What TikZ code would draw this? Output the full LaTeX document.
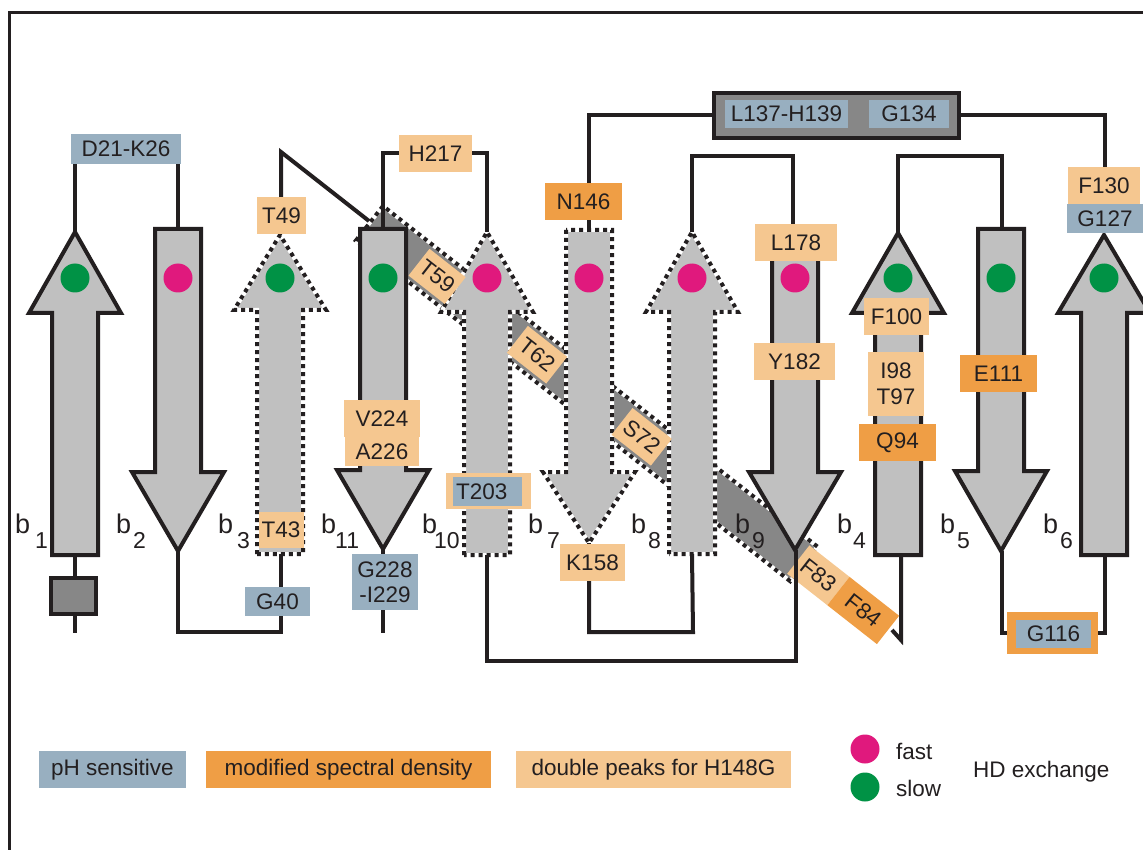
\documentclass[tikz,border=0pt]{standalone}
\usepackage{fontspec}
\setmainfont{Liberation Sans}
\definecolor{ink}{HTML}{231F20}
\definecolor{sgray}{HTML}{C0C0C0}
\definecolor{dgray}{HTML}{878787}
\definecolor{phblue}{HTML}{98AFC0}
\definecolor{lorange}{HTML}{F5C790}
\definecolor{mdorange}{HTML}{EF9E45}
\definecolor{mag}{HTML}{E0197D}
\definecolor{grn}{HTML}{009245}
\tikzset{
 conn/.style={draw=ink, line width=4pt},
 solidstrand/.style={fill=sgray, draw=ink, line width=4pt, line join=miter},
 dotstrand/.style={preaction={fill=sgray}, draw=white, line width=4pt, postaction={draw=ink, line width=4pt, dash pattern=on 4pt off 4pt}},
 bandstyle/.style={preaction={fill=dgray}, draw=white, line width=4pt, postaction={draw=ink, line width=4pt, dash pattern=on 4pt off 4pt}},
 lab/.style={inner sep=0pt, text=ink, font=\fontsize{22.5}{26}\selectfont, align=center},
 blab/.style={lab, fill=phblue},
 olab/.style={lab, fill=mdorange},
 llab/.style={lab, fill=lorange},
 dot/.style={circle, inner sep=0pt, minimum size=29pt},
 bname/.style={inner sep=0pt, anchor=base west, text=ink, font=\fontsize{27}{27}\selectfont},
 bsub/.style={inner sep=0pt, anchor=base west, text=ink, font=\fontsize{23}{23}\selectfont},
 legtext/.style={inner sep=0pt, text=ink, font=\fontsize{22.5}{26}\selectfont},
}
\newcommand\Strand[5]{\path[#5] (#1-23,#2) -- (#1-23,#3) -- (#1-46,#3) -- (#1,#4) -- (#1+46,#3) -- (#1+23,#3) -- (#1+23,#2) -- cycle;}
\begin{document}
\begin{tikzpicture}[x=1pt,y=-1pt]
\useasboundingbox (0,0) rectangle (1143,850);
\fill[white] (0,0) rectangle (1143,850);
% frame
\draw[ink, line width=3pt] (9,850) -- (9,13) -- (1143,13);

% diagonal band
\begin{scope}[shift={(383,206)}, rotate=-38.1]
 \path[bandstyle] (0,0) rectangle (552,44);
\end{scope}

% strands
\Strand{75}{555}{313}{232}{solidstrand}
\Strand{178}{229}{472}{551}{solidstrand}
\Strand{280}{554}{310}{235}{dotstrand}
\Strand{383}{229}{470}{549}{solidstrand}
\Strand{487}{555}{312}{232}{dotstrand}
\Strand{589}{230}{472}{543}{dotstrand}
\Strand{692}{554}{312}{232}{dotstrand}
\Strand{795}{255}{472}{550}{solidstrand}
\Strand{898}{555}{313}{233}{solidstrand}
\Strand{1001}{229}{471}{551}{solidstrand}
\Strand{1104}{555}{313}{235}{solidstrand}

% strand end coordinates
\coordinate (b1a) at (75,232);   \coordinate (b1e) at (75,555);
\coordinate (b2a) at (178,551);  \coordinate (b2e) at (178,229);
\coordinate (b3a) at (281,235);  \coordinate (b3e) at (281,554);
\coordinate (b11a) at (383,549); \coordinate (b11e) at (383,229);
\coordinate (b10a) at (487,232); \coordinate (b10e) at (487,555);
\coordinate (b7a) at (589,543);  \coordinate (b7e) at (589,230);
\coordinate (b8a) at (692,232);  \coordinate (b8e) at (692,554);
\coordinate (b9a) at (796,550);
\coordinate (b4a) at (898,233);  \coordinate (b4e) at (901,555);
\coordinate (b5a) at (1002,551); \coordinate (b5e) at (1002,229);
\coordinate (b6a) at (1104,235); \coordinate (b6e) at (1105,555);

% HD exchange dots
\node[dot, fill=grn] (d1) at (75,278) {};
\node[dot, fill=mag] (d2) at (178,278) {};
\node[dot, fill=grn] (d3) at (280,278) {};
\node[dot, fill=grn] (d11) at (383,278) {};
\node[dot, fill=mag] (d10) at (487,278) {};
\node[dot, fill=mag] (d7) at (589,278) {};
\node[dot, fill=mag] (d8) at (692,278) {};
\node[dot, fill=mag] (d9) at (795,278) {};
\node[dot, fill=grn] (d4) at (898,278) {};
\node[dot, fill=grn] (d5) at (1001,278) {};
\node[dot, fill=grn] (d6) at (1104,278) {};

% connector under F84
\coordinate (k8) at (901,640);
\coordinate (k9) at (892,630);
\draw[conn] (b4e) -- (k8) -- (k9);

% labels on the band
\begin{scope}[shift={(383,206)}, rotate=-38.1, every node/.append style={transform shape}]
 \node[llab, minimum width=46pt, minimum height=34pt] (t59) at (86,22) {T59};
 \node[llab, minimum width=50pt, minimum height=34pt] (t62) at (213,22) {T62};
 \node[llab, minimum width=50pt, minimum height=34pt] (s72) at (346,22) {S72};
 \node[llab, minimum width=51pt, minimum height=36pt] (f83) at (570.5,22) {F83};
 \node[olab, minimum width=63pt, minimum height=36pt] (f84) at (627.5,22) {F84};
\end{scope}

% labels
\node[blab, minimum width=110pt, minimum height=30pt] (d21) at (126,149) {D21-K26};
\node[llab, minimum width=49pt, minimum height=37pt] (t49) at (281.5,215.5) {T49};
\node[llab, minimum width=73pt, minimum height=37pt] (h217) at (435.5,153.5) {H217};
\node[olab, minimum width=77pt, minimum height=37pt] (n146) at (583.5,201.5) {N146};
\node[draw=ink, line width=4pt, fill=dgray, minimum width=245pt, minimum height=45pt, inner sep=0pt] (l137) at (836.5,115.5) {};
\node[blab, minimum width=123pt, minimum height=28pt] (l137in) at (786.5,114) {L137-H139};
\node[blab, minimum width=80pt, minimum height=28pt] (g134) at (909,114) {G134};
\node[llab, minimum width=82pt, minimum height=37pt] (l178) at (796,242.5) {L178};
\node[llab, minimum width=81pt, minimum height=37pt] (y182) at (794.5,361.5) {Y182};
\node[llab, minimum width=65pt, minimum height=37pt] (f100) at (896.5,316.5) {F100};
\node[llab, minimum width=56pt, minimum height=64pt] (i98) at (896,384) {I98\\T97};
\node[olab, minimum width=77pt, minimum height=37pt] (q94) at (897.5,442.5) {Q94};
\node[olab, minimum width=77pt, minimum height=37pt] (e111) at (998.5,373.5) {E111};
\node[llab, minimum width=72pt, minimum height=37pt] (f130) at (1104,185.5) {F130};
\node[blab, minimum width=76pt, minimum height=29pt] (g127) at (1105,218.5) {G127};
\node[olab, minimum width=91pt, minimum height=42pt] (g116o) at (1052.5,633) {};
\node[blab, minimum width=75pt, minimum height=28pt] (g116) at (1053.5,634) {G116};
\node[llab, minimum width=76pt, minimum height=37pt] (v224) at (382,418.5) {V224};
\node[llab, minimum width=74pt, minimum height=29pt] (a226) at (382,451.5) {A226};
\node[blab, minimum width=66pt, minimum height=56pt, font=\fontsize{22.5}{25}\selectfont] (g228) at (385,582) {G228\\-I229};
\node[llab, minimum width=85pt, minimum height=36pt] (t203o) at (488.5,491) {};
\node[blab, minimum height=29pt, text width=63pt, inner xsep=3pt, align=left] (t203) at (487.5,491.5) {T203};
\node[llab, minimum width=65pt, minimum height=37pt] (k158) at (592.5,562.5) {K158};
\node[blab, minimum width=65pt, minimum height=29pt] (g40) at (277.5,601.5) {G40};
\node[llab, minimum width=45pt, minimum height=36pt] (t43) at (281,530) {T43};
\node[draw=ink, line width=4pt, fill=dgray, minimum width=45pt, minimum height=36pt, inner sep=0pt] (sq) at (73.5,596) {};

% connectors
\coordinate (k1) at (281,632);
\coordinate (k2) at (281,152);
\coordinate (k3) at (369,221);
\coordinate (k4) at (796,661);
\coordinate (k5) at (693,632);
\coordinate (k6) at (793,156);
\coordinate (k7) at (1002,156);
\coordinate (k11) at (75,633);
\coordinate (k12) at (383,633);
\draw[conn] (b1a) -- (b1a |- d21.south);
\draw[conn] (b2e |- d21.south) -- (b2e);
\draw[conn] (b1e) -- (b1e |- sq.north);
\draw[conn] (b1e |- sq.south) -- (k11);
\draw[conn] (b2a) |- (k1) -- (k1 |- g40.south);
\draw[conn] (k1 |- g40.north) -- (b3e);
\draw[conn] (t49.north -| k2) -- (k2) -- (k3);
\draw[conn] (b11e) |- (h217.west);
\draw[conn] (h217.east) -| (b10a);
\draw[conn] (b11a) -- (b11a |- g228.north);
\draw[conn] (b11a |- g228.south) -- (k12);
\draw[conn] (b10e) |- (k4) -- (b9a);
\draw[conn] (b7e) -- (b7e |- n146.south);
\draw[conn] (b7e |- n146.north) |- (l137.west);
\draw[conn] (b7a) -- (b7a |- k158.north);
\draw[conn] (k158.south -| b7a) |- (k5) -- (b8e);
\draw[conn] (b8a) |- (k6) -- (k6 |- l178.north);
\draw[conn] (b4a) |- (k7) -- (b5e);
\draw[conn] (b5a) |- (g116o.west);
\draw[conn] (g116o.east) -| (b6e);
\draw[conn] (b6e |- f130.north) |- (l137.east);

% strand names
\node[bname] (n1) at (15,533) {b};    \node[bsub] (s1) at (35,548) {1};
\node[bname] (n2) at (116,533) {b};   \node[bsub] (s2) at (133,548) {2};
\node[bname] (n3) at (218,533) {b};   \node[bsub] (s3) at (237,548) {3};
\node[bname] (n11) at (321,533) {b};  \node[bsub] (s11) at (335,548) {11};
\node[bname] (n10) at (422,533) {b};  \node[bsub] (s10) at (434,548) {10};
\node[bname] (n7) at (528,533) {b};   \node[bsub] (s7) at (547,548) {7};
\node[bname] (n8) at (631,533) {b};   \node[bsub] (s8) at (648,548) {8};
\node[bname] (n9) at (735,533) {b};   \node[bsub] (s9) at (752,548) {9};
\node[bname] (n4) at (837,533) {b};   \node[bsub] (s4) at (853,548) {4};
\node[bname] (n5) at (940,533) {b};   \node[bsub] (s5) at (957,548) {5};
\node[bname] (n6) at (1043,533) {b};  \node[bsub] (s6) at (1060,548) {6};

% legend
\node[blab, minimum width=147pt, minimum height=37pt] (lg1) at (112.5,769.5) {pH sensitive};
\node[olab, minimum width=285pt, minimum height=37pt] (lg2) at (348.5,769.5) {modified spectral density};
\node[llab, minimum width=275pt, minimum height=37pt] (lg3) at (653.5,769.5) {double peaks for H148G};
\node[dot, fill=mag] (fastdot) at (865,749) {};
\node[dot, fill=grn] (slowdot) at (865,787) {};
\node[legtext, anchor=west] (fast) at (896,751) {fast};
\node[legtext, anchor=west] (slow) at (896,788) {slow};
\node[legtext, anchor=west] (hd) at (973,772) {HD exchange};
\end{tikzpicture}
\end{document}
